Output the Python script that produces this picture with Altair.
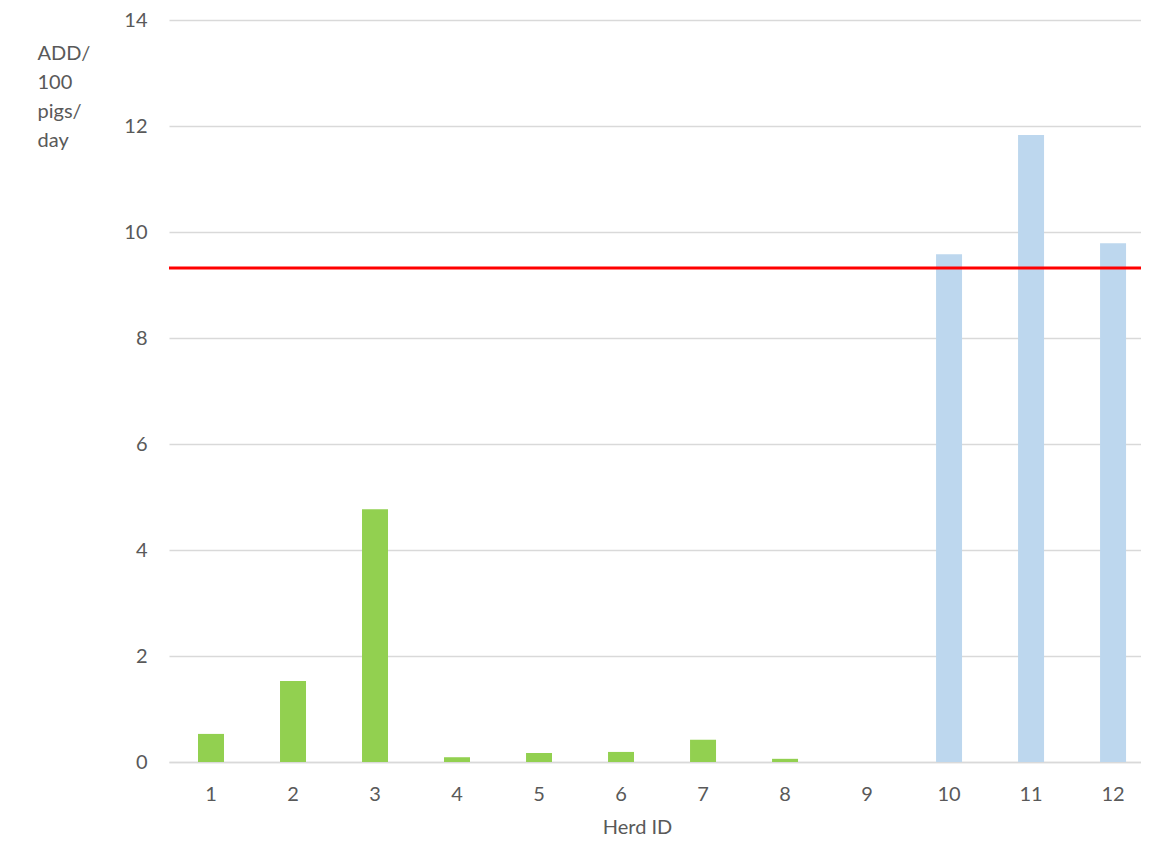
import altair as alt
import pandas as pd

herds = ["1", "2", "3", "4", "5", "6", "7", "8", "9", "10", "11", "12"]
values = [0.53, 1.53, 4.77, 0.09, 0.17, 0.19, 0.42, 0.06, 0.0, 9.58, 11.83, 9.79]
groups = ["A", "A", "A", "A", "A", "A", "A", "A", "A", "B", "B", "B"]
threshold = [9.32]

group_domain = ["A", "B"]
group_colors = ["#92D050", "#BDD7EE"]

df = pd.DataFrame({"herd": herds, "value": values, "group": groups})
df_th = pd.DataFrame({"threshold": threshold})

FONT = "Lato"
TXT = "#595959"

bars = alt.Chart(df).mark_bar().encode(
    x=alt.X(
        "herd:N",
        sort=herds,
        scale=alt.Scale(paddingInner=0.683, paddingOuter=0.268, align=0.66),
        axis=alt.Axis(
            title="Herd ID",
            labelAngle=0,
            ticks=False,
            domainColor="#D9D9D9",
            domainWidth=1.5,
            labelFont=FONT,
            labelFontSize=20,
            labelColor=TXT,
            labelPadding=22,
            titleFont=FONT,
            titleFontSize=20,
            titleFontWeight="normal",
            titleColor=TXT,
            titleX=468,
            titleY=71,
            titleBaseline="alphabetic",
            titleAlign="center",
        ),
    ),
    y=alt.Y(
        "value:Q",
        scale=alt.Scale(domain=[0, 14], nice=False),
        axis=alt.Axis(
            title=["ADD/", "100", "pigs/", "day"],
            values=[0, 2, 4, 6, 8, 10, 12, 14],
            ticks=False,
            domain=False,
            gridColor="#D9D9D9",
            gridWidth=1.5,
            labelFont=FONT,
            labelFontSize=20,
            labelColor=TXT,
            labelPadding=22,
            titleFont=FONT,
            titleFontSize=20,
            titleFontWeight="normal",
            titleColor=TXT,
            titleAngle=0,
            titleAlign="left",
            titleBaseline="alphabetic",
            titleX=-132,
            titleY=39,
            titleLineHeight=29,
        ),
    ),
    color=alt.Color(
        "group:N",
        scale=alt.Scale(domain=group_domain, range=group_colors),
        legend=None,
    ),
)

rule = alt.Chart(df_th).mark_rule(color="#FF0000", strokeWidth=3).encode(
    y=alt.Y("threshold:Q")
)

chart = (
    alt.layer(bars, rule)
    .properties(
        width=972,
        height=742,
        padding={"left": 161, "top": 12, "right": 0, "bottom": 77},
        autosize=alt.AutoSizeParams(type="none"),
        background="white",
    )
    .configure_view(strokeWidth=0)
)

chart.save("out.html", embed_options={"renderer": "svg", "actions": False})
